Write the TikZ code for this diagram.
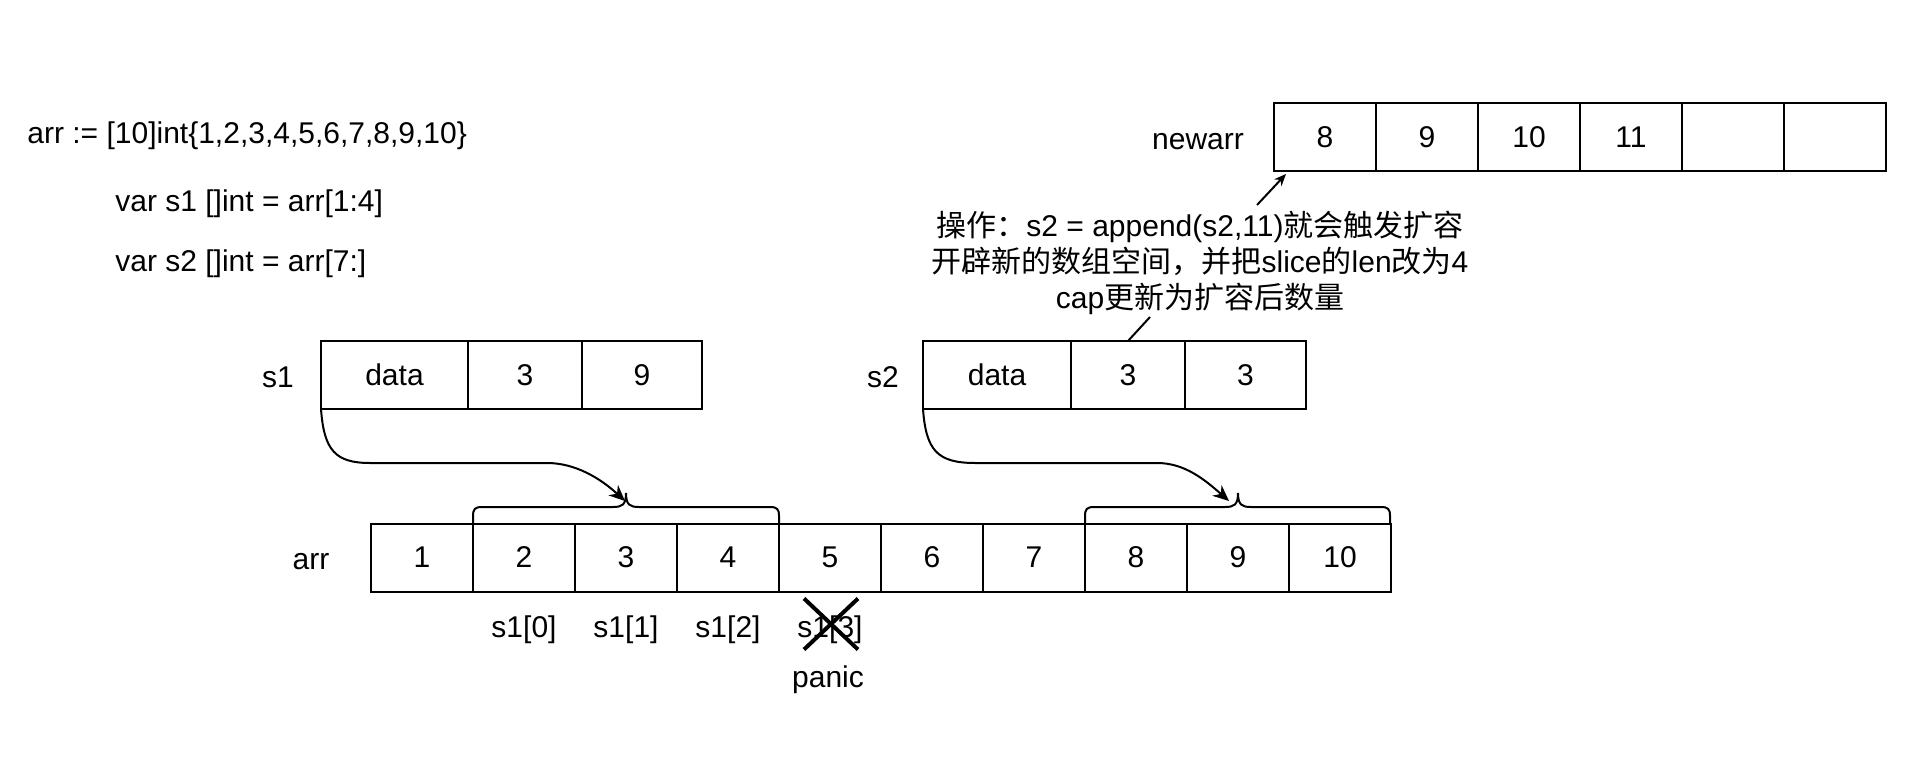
\documentclass[tikz,border=0pt]{standalone}
\usepackage{fontspec}
\setmainfont{Liberation Sans}
\newfontfamily\cjk{Noto Sans CJK SC}
\usetikzlibrary{arrows.meta,shapes.misc}
\begin{document}
\begin{tikzpicture}[x=0.5pt,y=-0.5pt,
  font=\fontsize{15pt}{18pt}\selectfont,
  cell/.style={draw, line width=1pt, minimum height=34pt, inner sep=0pt, outer sep=0pt, anchor=west},
  lbl/.style={inner sep=0pt},
  conn/.style={line width=1pt},
  bigarrow/.style={-{Stealth[length=8pt,width=7pt]}},
  smallarrow/.style={-{Stealth[length=6pt,width=5pt]}}]
\useasboundingbox (0,0) rectangle (1926,764);

% code text
\node[lbl, anchor=west] (code1) at (27,136) {arr := [10]int\{1,2,3,4,5,6,7,8,9,10\}};
\node[lbl, anchor=west] (code2) at (115,204) {var s1 []int = arr[1:4]};
\node[lbl, anchor=west] (code3) at (115,264) {var s2 []int = arr[7:]};

% newarr
\node[lbl] (newarrlbl) at (1198,142) {newarr};
\node[cell, minimum width=51pt] (n1) at (1274,137) {8};
\node[cell, minimum width=51pt] (n2) at (n1.east) {9};
\node[cell, minimum width=51pt] (n3) at (n2.east) {10};
\node[cell, minimum width=51pt] (n4) at (n3.east) {11};
\node[cell, minimum width=51pt] (n5) at (n4.east) {};
\node[cell, minimum width=51pt] (n6) at (n5.east) {};

% annotation
\node[lbl, align=center] (ann) at (1200,263) {{\cjk 操作：}s2 = append(s2,11){\cjk 就会触发扩容}\\{\cjk 开辟新的数组空间，并把}slice{\cjk 的}len{\cjk 改为}4\\cap{\cjk 更新为扩容后数量}};

% s1
\node[lbl] (s1lbl) at (278,377) {s1};
\node[cell, minimum width=73.5pt] (s1a) at (321,375) {data};
\node[cell, minimum width=57pt] (s1b) at (s1a.east) {3};
\node[cell, minimum width=60pt] (s1c) at (s1b.east) {9};

% s2
\node[lbl] (s2lbl) at (883,377) {s2};
\node[cell, minimum width=74pt] (s2a) at (923,375) {data};
\node[cell, minimum width=57pt] (s2b) at (s2a.east) {3};
\node[cell, minimum width=60.5pt] (s2c) at (s2b.east) {3};

% arr
\node[lbl] (arrlbl) at (311,562) {arr};
\node[cell, minimum width=51pt] (a1) at (371,557.5) {1};
\node[cell, minimum width=51pt] (a2) at (a1.east) {2};
\node[cell, minimum width=51pt] (a3) at (a2.east) {3};
\node[cell, minimum width=51pt] (a4) at (a3.east) {4};
\node[cell, minimum width=51pt] (a5) at (a4.east) {5};
\node[cell, minimum width=51pt] (a6) at (a5.east) {6};
\node[cell, minimum width=51pt] (a7) at (a6.east) {7};
\node[cell, minimum width=51pt] (a8) at (a7.east) {8};
\node[cell, minimum width=51pt] (a9) at (a8.east) {9};
\node[cell, minimum width=51pt] (a10) at (a9.east) {10};

% braces
\draw[conn] (473,524) -- (473,516) .. controls (473,509) and (475,507) .. (482,507) -- (613,507)
  .. controls (622,507) and (626,505) .. (626,493) .. controls (626,505) and (630,507) .. (639,507)
  -- (770,507) .. controls (777,507) and (779,509) .. (779,516) -- (779,524);
\draw[conn] (1085,524) -- (1085,516) .. controls (1085,509) and (1087,507) .. (1094,507) -- (1225,507)
  .. controls (1234,507) and (1238,505) .. (1238,493) .. controls (1238,505) and (1242,507) .. (1251,507)
  -- (1381,507) .. controls (1388,507) and (1390,509) .. (1390,516) -- (1390,524);

% pointers
\coordinate (e1) at (625,501);
\coordinate (e2) at (1229,501);
\draw[conn, bigarrow] (s1a.south west) .. controls (324,450) and (335,463) .. (370,463) -- (547,463)
  .. controls (575,463) and (600,478) .. (e1);
\draw[conn, bigarrow] (s2a.south west) .. controls (926,450) and (937,463) .. (975,463) -- (1157,463)
  .. controls (1185,463) and (1205,480) .. (e2);

% annotation connectors
\coordinate (annTop) at (1257,205);
\coordinate (nTip) at (1286,174);
\draw[conn, smallarrow] (annTop) -- (nTip);
\coordinate (annBot) at (1150,317);
\draw[conn] (s2b.north) -- (annBot);

% index labels
\node[lbl] (i0) at (524,630) {s1[0]};
\node[lbl] (i1) at (626,630) {s1[1]};
\node[lbl] (i2) at (728,630) {s1[2]};
\node[lbl] (i3) at (830,630) {s1[3]};
\node[cross out, draw, line width=2pt, minimum width=25pt, minimum height=23.5pt, inner sep=0pt] (x3) at (831,624) {};
\node[lbl] (panic) at (828,680) {panic};
\end{tikzpicture}
\end{document}
